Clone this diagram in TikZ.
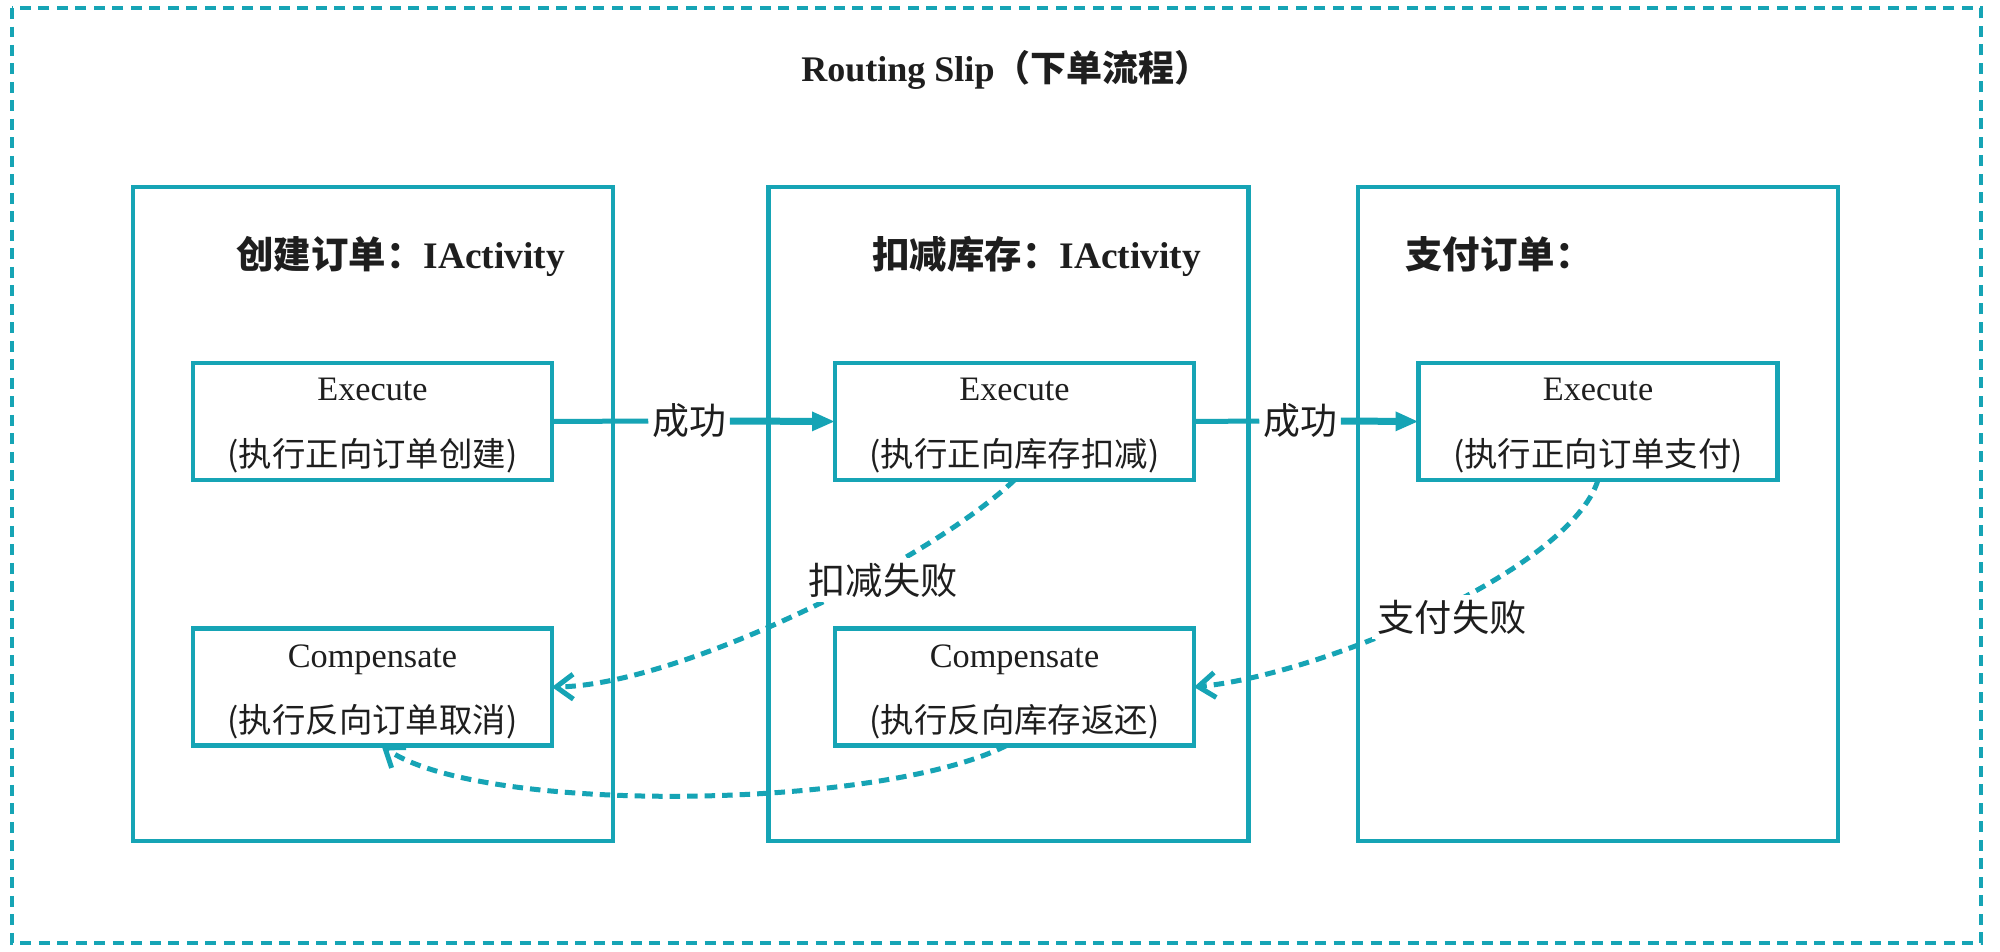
\documentclass[tikz,border=0pt]{standalone}
\usepackage{fontspec}
\setmainfont{Liberation Serif}
\newfontfamily\cjk{Noto Sans CJK SC}
\usetikzlibrary{arrows.meta,calc}
\definecolor{tealc}{RGB}{22,164,181}
\definecolor{ink}{RGB}{30,30,30}
\begin{document}
\begin{tikzpicture}[x=0.02cm,y=-0.02cm,
  frame/.style={draw=tealc,line width=0.09cm,dash pattern=on 0.22cm off 0.15cm},
  bigbox/.style={draw=tealc,line width=0.095cm,minimum width=9.6cm,minimum height=13.08cm,inner sep=0pt,outer sep=0pt},
  inbox/.style={draw=tealc,line width=0.095cm,minimum width=7.18cm,minimum height=2.34cm,inner sep=0pt,outer sep=0pt},
  lat/.style={text=ink,inner sep=0pt,anchor=base,font=\fontsize{19.5pt}{23pt}\selectfont},
  cjkt/.style={text=ink,inner sep=0pt,anchor=base,font=\cjk\fontsize{19pt}{23pt}\selectfont},
  boxtitle/.style={text=ink,inner sep=0pt,anchor=base west,font=\fontsize{21.3pt}{25pt}\selectfont\bfseries},
  flab/.style={text=ink,fill=white,inner sep=3pt,font=\cjk\fontsize{21.2pt}{25pt}\selectfont},
  slab/.style={text=ink,inner sep=2pt,font=\cjk\fontsize{21pt}{25pt}\selectfont},
  okline/.style={draw=tealc,line width=0.1cm},
  okarrow/.style={draw=tealc,line width=0.14cm,-{Triangle[length=0.46cm,width=0.36cm]}},
  failarrow/.style={draw=tealc,line width=0.1cm,dash pattern=on 0.21cm off 0.14cm,
     -{Straight Barb[length=0.34cm,width=0.5cm]}}
]
\useasboundingbox (0,0) rectangle (2000,951);
\fill[white] (0,0) rectangle (2000,951);

% outer frame
\draw[frame] (12,8) rectangle (1981,943);

% title
\node[text=ink,inner sep=0pt,anchor=base,font=\fontsize{20.5pt}{25pt}\selectfont\bfseries] (title) at (1006,81)
  {Routing Slip{\cjk （下单流程）}};

% activity boxes
\node[bigbox] (b1) at (373,514) {};
\node[bigbox] (b2) at (1008.5,514) {};
\node[bigbox] (b3) at (1598,514) {};

\node[boxtitle] (t1) at (236,268) {{\cjk 创建订单：}IActivity};
\node[boxtitle] (t2) at (872,268) {{\cjk 扣减库存：}IActivity};
\node[boxtitle] (t3) at (1405,268) {{\cjk 支付订单：}};

% inner boxes
\node[inbox] (ex1) at (372.5,421.5) {};
\node[inbox] (ex2) at (1014.5,421.5) {};
\node[inbox] (ex3) at (1598,421.5) {};
\node[inbox] (cp1) at (372.5,687) {};
\node[inbox] (cp2) at (1014.5,687) {};

\node[lat] (ex1a) at ($(ex1.center)+(0,-21)$) {Execute};
\node[cjkt] (ex1b) at ($(ex1.center)+(0,45)$) {(执行正向订单创建)};
\node[lat] (ex2a) at ($(ex2.center)+(0,-21)$) {Execute};
\node[cjkt] (ex2b) at ($(ex2.center)+(0,45)$) {(执行正向库存扣减)};
\node[lat] (ex3a) at ($(ex3.center)+(0,-21)$) {Execute};
\node[cjkt] (ex3b) at ($(ex3.center)+(0,45)$) {(执行正向订单支付)};
\node[lat] (cp1a) at ($(cp1.center)+(0,-20)$) {Compensate};
\node[cjkt] (cp1b) at ($(cp1.center)+(0,45)$) {(执行反向订单取消)};
\node[lat] (cp2a) at ($(cp2.center)+(0,-20)$) {Compensate};
\node[cjkt] (cp2b) at ($(cp2.center)+(0,45)$) {(执行反向库存返还)};

% success arrows
\node[slab] (s1) at (689,421) {成功};
\node[slab] (s2) at (1300,421) {成功};
\draw[okline] (ex1.east) -- (s1.west);
\draw[okarrow] (s1.east) -- (ex2.west);
\draw[okline] (ex2.east) -- (s2.west);
\draw[okarrow] (s2.east) -- (ex3.west);

% failure / compensation arrows
\draw[failarrow] (ex2.south) .. controls (930,560) and (680,685) .. (cp1.east);
\draw[failarrow] (ex3.south) .. controls (1570,570) and (1320,675) .. (cp2.east);
\coordinate (c2s) at ($(cp2.south)+(-8,0)$);
\coordinate (c1s) at ($(cp1.south)+(9,0)$);
\draw[failarrow] (c2s) .. controls (880,810) and (480,815) .. (c1s);

\node[flab] (f1) at (883,580) {扣减失败};
\node[flab] (f2) at (1452,617) {支付失败};
\end{tikzpicture}
\end{document}
